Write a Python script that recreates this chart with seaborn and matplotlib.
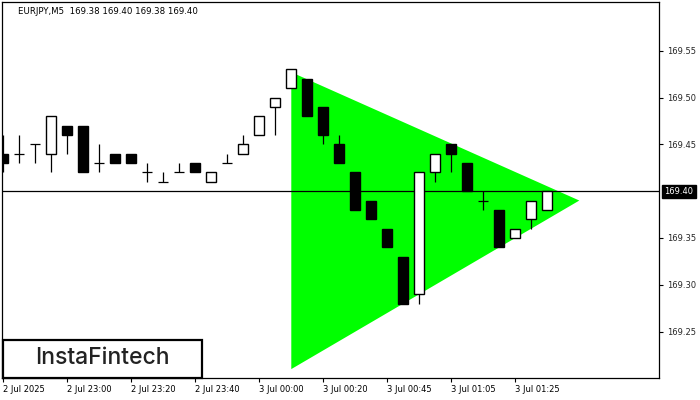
import matplotlib
matplotlib.use("Agg")
import matplotlib.pyplot as plt
import seaborn as sns
import pandas as pd
from matplotlib.patches import Rectangle

# EURJPY M5 candles
opens = [169.44, 169.44, 169.45, 169.44, 169.47, 169.47, 169.43, 169.44, 169.44, 169.42,
         169.41, 169.42, 169.43, 169.41, 169.43, 169.44, 169.46, 169.49, 169.51, 169.52,
         169.49, 169.45, 169.42, 169.39, 169.36, 169.33, 169.29, 169.42, 169.45, 169.43,
         169.39, 169.38, 169.35, 169.37, 169.38]
highs = [169.46, 169.46, 169.45, 169.48, 169.47, 169.47, 169.45, 169.44, 169.44, 169.43,
         169.42, 169.43, 169.43, 169.42, 169.44, 169.46, 169.48, 169.50, 169.53, 169.52,
         169.49, 169.46, 169.42, 169.39, 169.36, 169.33, 169.42, 169.44, 169.45, 169.43,
         169.40, 169.38, 169.36, 169.39, 169.40]
lows = [169.42, 169.43, 169.43, 169.42, 169.44, 169.42, 169.42, 169.43, 169.43, 169.41,
        169.41, 169.42, 169.42, 169.41, 169.43, 169.44, 169.46, 169.46, 169.51, 169.48,
        169.45, 169.43, 169.38, 169.37, 169.34, 169.28, 169.28, 169.41, 169.42, 169.40,
        169.38, 169.34, 169.35, 169.36, 169.38]
closes = [169.43, 169.44, 169.45, 169.48, 169.46, 169.42, 169.43, 169.43, 169.43, 169.42,
          169.41, 169.42, 169.42, 169.42, 169.43, 169.45, 169.48, 169.50, 169.53, 169.48,
          169.46, 169.43, 169.38, 169.37, 169.34, 169.28, 169.42, 169.44, 169.44, 169.40,
          169.39, 169.34, 169.36, 169.39, 169.40]

# bullish symmetrical triangle pattern
tri_x = [18, 18, 36]
tri_y = [169.527, 169.21, 169.39]

current_price = 169.40
price_ticks = [169.25, 169.30, 169.35, 169.45, 169.50, 169.55]
time_tick_pos = [0, 4, 8, 12, 16, 20, 24, 28, 32]
time_tick_labels = ["2 Jul 2025", "2 Jul 23:00", "2 Jul 23:20", "2 Jul 23:40", "3 Jul 00:00",
                    "3 Jul 00:20", "3 Jul 00:45", "3 Jul 01:05", "3 Jul 01:25"]

df = pd.DataFrame({"open": opens, "high": highs, "low": lows, "close": closes})
df["idx"] = range(len(df))
df["bottom"] = df[["open", "close"]].min(axis=1)
df["height"] = (df["close"] - df["open"]).abs()
df["bull"] = df["close"] >= df["open"]

sns.set_style("white")
plt.rcParams["font.family"] = ["DejaVu Sans"]

fig = plt.figure(figsize=(7, 4), dpi=100)
ax = fig.add_axes([2 / 700, 22 / 400, 657 / 700, 376 / 400])

ax.fill(tri_x, tri_y, color="#00ff00", lw=0, zorder=1)
ax.axhline(current_price, color="black", lw=0.9, zorder=2)

# wicks
ax.vlines(df["idx"], df["low"], df["high"], color="black", lw=0.9, zorder=3)

w = 0.64
body = df[df["height"] > 0.001]
doji = df[df["height"] <= 0.001]
bull = body[body["bull"]]
bear = body[~body["bull"]]
ax.bar(bull["idx"], bull["height"], bottom=bull["bottom"], width=w,
       color="white", edgecolor="black", linewidth=1.0, zorder=4)
ax.bar(bear["idx"], bear["height"], bottom=bear["bottom"], width=w,
       color="black", edgecolor="black", linewidth=1.0, zorder=4)
ax.hlines(doji["open"], doji["idx"] - w / 2, doji["idx"] + w / 2, color="black", lw=0.9, zorder=4)

ax.set_xlim(-0.08, 40.98)
ax.set_ylim(169.2005, 169.602)

ax.yaxis.tick_right()
ax.set_yticks(price_ticks)
ax.set_yticklabels([f"{v:.2f}" for v in price_ticks], fontsize=6)
ax.set_xticks(time_tick_pos)
ax.set_xticklabels(time_tick_labels, fontsize=6, ha="left")
ax.tick_params(axis="x", bottom=True, length=3, width=0.8, pad=2, color="black")
ax.tick_params(axis="y", right=True, length=3, width=0.8, pad=3, color="black")
ax.xaxis.set_tick_params(labelcolor="black")
for s in ax.spines.values():
    s.set_visible(True)
    s.set_color("black")
    s.set_linewidth(0.9)

# current price marker on the price scale
ax.annotate(f"{current_price:.2f}", xy=(1.0, current_price), xycoords=("axes fraction", "data"),
            xytext=(4, 0), textcoords="offset points", ha="left", va="center",
            fontsize=6, color="white",
            bbox=dict(boxstyle="square,pad=0.25", fc="black", ec="black"))

fig.text(18 / 700, 1 - 11 / 400, "EURJPY,M5  169.38 169.40 169.38 169.40",
         fontsize=6.2, color="black", va="center", ha="left")

# logo box
fig.patches.append(Rectangle((3 / 700, 22 / 400), 199 / 700, 38 / 400, transform=fig.transFigure,
                             fill=True, fc="white", ec="black", lw=1.6, zorder=5))
fig.text(102 / 700, 1 - 358 / 400, "InstaFintech", fontsize=16.5, family="Inter",
         fontweight="medium", color="#222222", ha="center", va="center", zorder=6)

fig.savefig("out.png", dpi=100)
